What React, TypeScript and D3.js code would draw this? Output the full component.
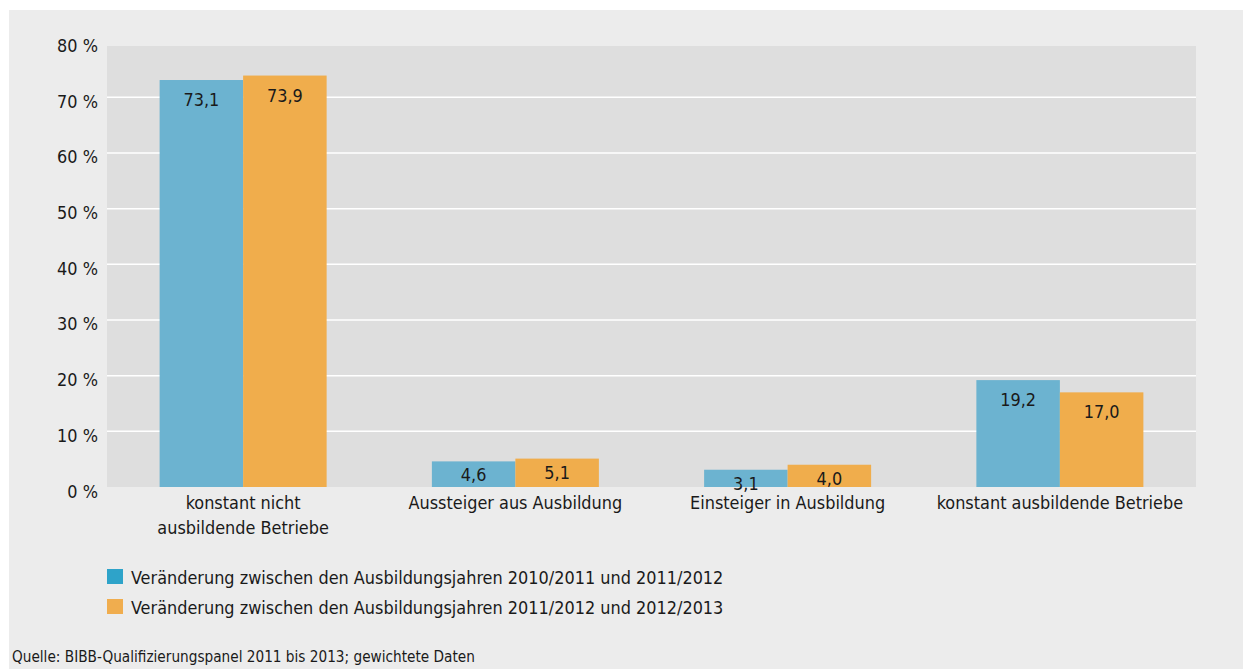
import * as d3 from "d3";

// ---- data --------------------------------------------------------------
const categories = [
  ["konstant nicht", "ausbildende Betriebe"],
  ["Aussteiger aus Ausbildung"],
  ["Einsteiger in Ausbildung"],
  ["konstant ausbildende Betriebe"],
];
const series1 = [73.1, 4.6, 3.1, 19.2]; // 2010/2011 -> 2011/2012
const series2 = [73.9, 5.1, 4.0, 17.0]; // 2011/2012 -> 2012/2013
const seriesNames = [
  "Veränderung zwischen den Ausbildungsjahren 2010/2011 und 2011/2012",
  "Veränderung zwischen den Ausbildungsjahren 2011/2012 und 2012/2013",
];
const yTicks = [0, 10, 20, 30, 40, 50, 60, 70, 80];
const source = "Quelle: BIBB-Qualifizierungspanel 2011 bis 2013; gewichtete Daten";

// ---- layout ------------------------------------------------------------
const W = 1243;
const H = 669;
const FONT = "'DejaVu Sans Condensed', sans-serif";
const FS = 17.9;
const barColors = ["#6cb3d0", "#f0ad4c"];
const legendColors = ["#2ea3c9", "#f0ad4e"];

const plot = { left: 107, right: 1196, top: 46, bottom: 487 };

export default function App() {
  const x = d3
    .scaleBand<number>()
    .domain(d3.range(categories.length))
    .range([plot.left, plot.right]);
  const inner = d3.scaleBand<number>().domain([0, 1]).range([0, 167]);
  const y = d3.scaleLinear().domain([0, 80]).range([plot.bottom, 41.6]);
  const fmt = (v: number) => v.toFixed(1).replace(".", ",");
  const groupOffset = (x.bandwidth() - 167) / 2;

  return (
    <svg
      width={W}
      height={H}
      style={{ position: "absolute", left: 0, top: 0, background: "#fff" }}
      fontFamily={FONT}
    >
      <rect x={9} y={10} width={W - 9} height={H - 10} fill="#ececec" />
      <rect
        x={plot.left}
        y={plot.top}
        width={plot.right - plot.left}
        height={plot.bottom - plot.top}
        fill="#dedede"
      />
      {yTicks.map((t) => (
        <g key={t}>
          {t > 0 && t < 80 && (
            <line
              x1={plot.left}
              x2={plot.right}
              y1={y(t)}
              y2={y(t)}
              stroke="#fff"
              strokeWidth={1.5}
            />
          )}
          <text
            x={98}
            y={y(t) + 10.5}
            textAnchor="end"
            fontSize={FS}
            fill="#1a1a1a"
          >
            {t} %
          </text>
        </g>
      ))}
      {[series1, series2].map((s, si) =>
        s.map((v, i) => {
          const bx = (x(i) as number) + groupOffset + (inner(si) as number);
          const bw = inner.bandwidth();
          return (
            <g key={`${si}-${i}`}>
              <rect
                x={bx}
                y={y(v)}
                width={bw}
                height={plot.bottom - y(v)}
                fill={barColors[si]}
              />
              <text
                x={bx + bw / 2}
                y={y(v) + (v > 10 ? 26 : 20)}
                textAnchor="middle"
                fontSize={FS}
                fill="#1a1a1a"
              >
                {fmt(v)}
              </text>
            </g>
          );
        })
      )}
      {categories.map((lines, i) => (
        <text
          key={i}
          x={(x(i) as number) + x.bandwidth() / 2}
          textAnchor="middle"
          fontSize={FS}
          fill="#1a1a1a"
        >
          {lines.map((l, li) => (
            <tspan key={li} x={(x(i) as number) + x.bandwidth() / 2} y={509 + li * 25}>
              {l}
            </tspan>
          ))}
        </text>
      ))}
      {seriesNames.map((n, i) => (
        <g key={n} transform={`translate(107,${569 + i * 30})`}>
          <rect width={16} height={15} fill={legendColors[i]} />
          <text x={24} y={15} fontSize={FS} fill="#1a1a1a">
            {n}
          </text>
        </g>
      ))}
      <text x={12} y={662} fontSize={15.2} fill="#1a1a1a">
        {source}
      </text>
    </svg>
  );
}
